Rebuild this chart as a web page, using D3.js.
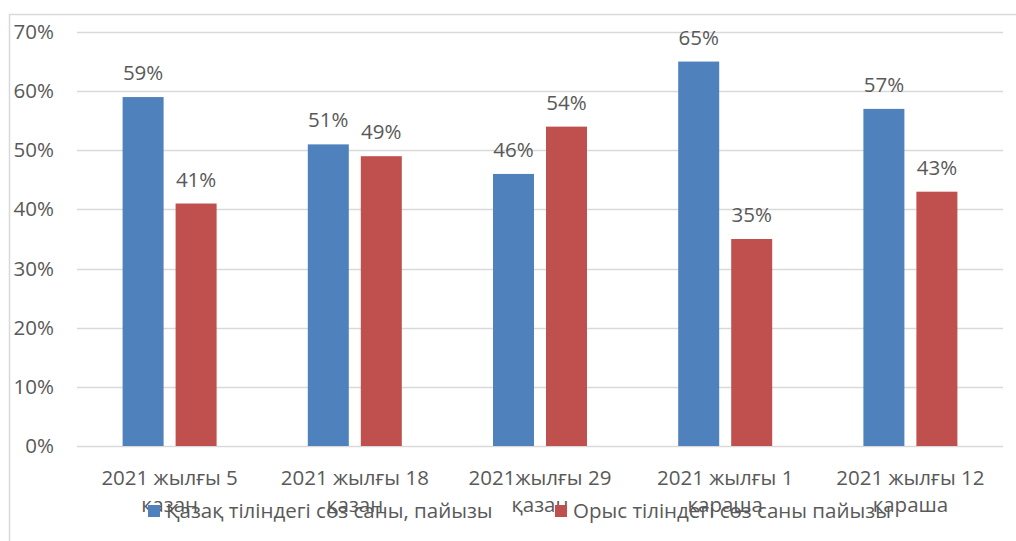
<!DOCTYPE html>
<html>
<head>
<meta charset="utf-8">
<script src="https://cdn.jsdelivr.net/npm/d3@7"></script>
<style>
  body { margin: 0; background: #fff; }
  text { font-family: "Open Sans", "Liberation Sans", sans-serif; fill: #595959; }
</style>
</head>
<body>
<svg id="canvas"></svg>
<script>
const categories = [
  ["2021 жылғы 5", "қазан"],
  ["2021 жылғы 18", "қазан"],
  ["2021жылғы 29", "қазан"],
  ["2021 жылғы 1", "караша"],
  ["2021 жылғы 12", "караша"],
];
const seriesNames = ["Қазақ тіліндегі сөз саны, пайызы", "Орыс тіліндегі сөз саны пайызы"];
const kazakhValues = [59, 51, 46, 65, 57];
const russianValues = [41, 49, 54, 35, 43];
const yTicks = [0, 10, 20, 30, 40, 50, 60, 70];
const colors = ["#4f81bd", "#c0504d"];

const width = 1016;
const height = 541;
const plotLeft = 77;
const plotRight = 1003;
const plotTop = 32;
const plotBottom = 446;
const fs = "20.5px";

const canvas = d3.select("#canvas").attr("width", width).attr("height", height);

// outer chart border
canvas.append("path")
  .attr("d", `M9.5,${height} V14.5 H${width}`)
  .attr("fill", "none")
  .attr("stroke", "#d9d9d9")
  .attr("stroke-width", 1.5);

const xScale = d3.scaleBand().domain(d3.range(categories.length)).range([plotLeft, plotRight]);
const yScale = d3.scaleLinear().domain([0, 70]).range([plotBottom, plotTop]);

// gridlines
canvas.selectAll(".grid")
  .data(yTicks)
  .enter()
  .append("line")
  .attr("x1", plotLeft)
  .attr("x2", plotRight)
  .attr("y1", (d) => Math.round(yScale(d)) + 0.5)
  .attr("y2", (d) => Math.round(yScale(d)) + 0.5)
  .attr("stroke", "#d9d9d9")
  .attr("stroke-width", 1.5);

// y labels
canvas.selectAll(".ylab")
  .data(yTicks)
  .enter()
  .append("text")
  .attr("x", 54)
  .attr("y", (d) => yScale(d) + 7)
  .attr("text-anchor", "end")
  .style("font-size", fs)
  .text((d) => d + "%");

const barW = 41;
const gap = 12;
const series = [kazakhValues, russianValues];

series.forEach((vals, s) => {
  const off = s === 0 ? -(gap / 2 + barW) : gap / 2;
  const cx = (i) => xScale(i) + xScale.bandwidth() / 2 + off;
  canvas.selectAll(".bar" + s)
    .data(vals)
    .enter()
    .append("rect")
    .attr("x", (d, i) => cx(i))
    .attr("y", (d) => yScale(d))
    .attr("width", barW)
    .attr("height", (d) => plotBottom - yScale(d))
    .attr("fill", colors[s]);

  canvas.selectAll(".lab" + s)
    .data(vals)
    .enter()
    .append("text")
    .attr("x", (d, i) => cx(i) + barW / 2)
    .attr("y", (d) => yScale(d) - 17)
    .attr("text-anchor", "middle")
    .style("font-size", fs)
    .text((d) => d + "%");
});

// x labels
categories.forEach((lines, i) => {
  const t = canvas.append("text")
    .attr("x", xScale(i) + xScale.bandwidth() / 2)
    .attr("y", 485)
    .attr("text-anchor", "middle")
    .style("font-size", fs);
  lines.forEach((l, j) => {
    t.append("tspan")
      .attr("x", xScale(i) + xScale.bandwidth() / 2)
      .attr("dy", j === 0 ? 0 : 27)
      .text(l);
  });
});

// legend
const legendX = [148, 555];
seriesNames.forEach((name, s) => {
  canvas.append("rect")
    .attr("x", legendX[s])
    .attr("y", 505)
    .attr("width", 12)
    .attr("height", 12)
    .attr("fill", colors[s]);
  canvas.append("text")
    .attr("x", legendX[s] + 18)
    .attr("y", 518)
    .style("font-size", fs)
    .text(name);
});
</script>
</body>
</html>
